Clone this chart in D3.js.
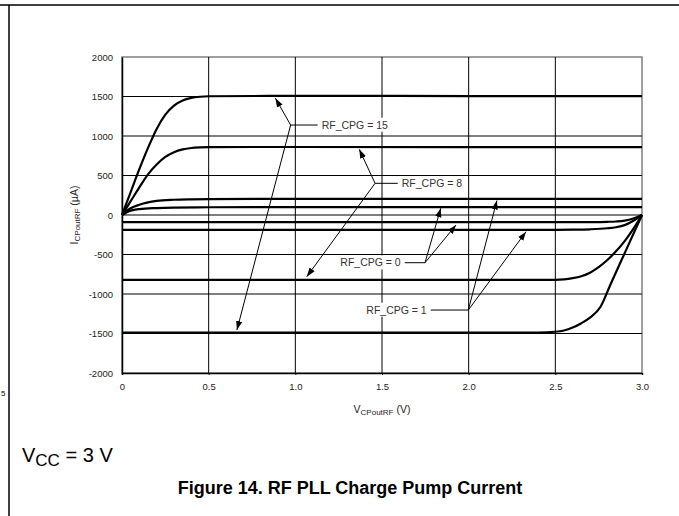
<!DOCTYPE html>
<html>
<head>
<meta charset="utf-8">
<script src="https://cdn.jsdelivr.net/npm/d3@7"></script>
<style>
  body { margin: 0; background: #fff; }
  svg { display: block; font-family: "Liberation Sans", Arial, sans-serif; }
</style>
</head>
<body>
<div id="chart"></div>
<script>
// tick values
const xTicks = [0, 0.5, 1.0, 1.5, 2.0, 2.5, 3.0];
const yTicks = [-2000, -1500, -1000, -500, 0, 500, 1000, 1500, 2000];

// source curves [V, uA]
const cpg15Source = [[0,0],[0.05,290],[0.1,580],[0.15,850],[0.2,1090],[0.25,1270],[0.3,1385],[0.35,1450],[0.4,1482],[0.45,1497],[0.5,1503],[1.0,1508],[2.0,1506],[3.0,1505]];
const cpg8Source = [[0,0],[0.05,175],[0.1,350],[0.15,515],[0.2,640],[0.25,735],[0.3,795],[0.35,830],[0.4,848],[0.45,856],[0.5,859],[1.0,861],[3.0,858]];
const cpg1Source = [[0,0],[0.05,85],[0.1,130],[0.15,160],[0.2,178],[0.3,193],[0.4,199],[0.5,202],[1.0,205],[3.0,205]];
const cpg0Source = [[0,0],[0.05,55],[0.1,75],[0.2,88],[0.3,94],[0.5,98],[1.0,100],[3.0,100]];

// sink curves [V, uA]
const cpg0Sink = [[0,-90],[2.5,-90],[2.7,-89],[2.8,-86],[2.85,-82],[2.9,-72],[2.95,-45],[3.0,0]];
const cpg1Sink = [[0,-188],[2.5,-188],[2.6,-186],[2.7,-181],[2.8,-168],[2.85,-155],[2.9,-128],[2.95,-72],[3.0,0]];
const cpg8Sink = [[0,-820],[2.5,-820],[2.55,-815],[2.6,-800],[2.65,-775],[2.7,-730],[2.75,-660],[2.8,-570],[2.85,-460],[2.9,-330],[2.95,-175],[3.0,0]];
const cpg15Sink = [[0,-1490],[2.4,-1488],[2.5,-1478],[2.55,-1462],[2.6,-1425],[2.65,-1370],[2.7,-1300],[2.76,-1165],[2.82,-870],[2.88,-580],[2.94,-290],[3.0,0]];

const curves = [cpg15Source, cpg8Source, cpg1Source, cpg0Source, cpg0Sink, cpg1Sink, cpg8Sink, cpg15Sink];

// callouts: label text, elbow point, label side, arrow tips (data units)
const callouts = [
  { label: "RF_CPG = 15", elbow: [0.973, 1139], textAt: 1.152, side: "right", tips: [[0.885, 1478], [0.663, -1456]] },
  { label: "RF_CPG = 8", elbow: [1.46, 401], textAt: 1.614, side: "right", tips: [[1.369, 831], [1.066, -781]] },
  { label: "RF_CPG = 0", elbow: [1.748, -604], textAt: 1.608, side: "left", tips: [[1.839, 85], [1.927, -127]] },
  { label: "RF_CPG = 1", elbow: [1.998, -1203], textAt: 1.758, side: "left", tips: [[2.163, 183], [2.331, -211]] }
];

const width = 679;
const height = 516;
const margins = { top: 57, right: 37, bottom: 143, left: 122 };

const svg = d3.select("#chart").append("svg")
  .attr("width", width)
  .attr("height", height);

svg.append("rect").attr("width", width).attr("height", height).attr("fill", "#fff");

// page frame bits
svg.append("line").attr("x1", 0).attr("x2", width).attr("y1", 5).attr("y2", 5)
  .attr("stroke", "#000").attr("stroke-width", 1.5);
svg.append("line").attr("x1", 9).attr("x2", 9).attr("y1", 5).attr("y2", height)
  .attr("stroke", "#000").attr("stroke-width", 1.5);
svg.append("text").attr("x", 1).attr("y", 396)
  .attr("font-size", 8).attr("fill", "#000").text("5");

const xScale = d3.scaleLinear().domain([0, 3]).range([margins.left, width - margins.right]);
const yScale = d3.scaleLinear().domain([-2000, 2000]).range([height - margins.bottom, margins.top]);

// plot border
svg.append("rect")
  .attr("x", xScale(0)).attr("y", yScale(2000))
  .attr("width", xScale(3) - xScale(0)).attr("height", yScale(-2000) - yScale(2000))
  .attr("fill", "none").attr("stroke", "#808080").attr("stroke-width", 1.5);

// grid
const grid = svg.append("g").attr("stroke", "#000").attr("stroke-width", 1);
grid.selectAll(".gx").data(xTicks.slice(1, -1)).enter().append("line")
  .attr("x1", d => xScale(d)).attr("x2", d => xScale(d))
  .attr("y1", yScale(2000)).attr("y2", yScale(-2000));
grid.selectAll(".gy").data(yTicks.slice(1, -1)).enter().append("line")
  .attr("x1", xScale(0)).attr("x2", xScale(3))
  .attr("y1", d => yScale(d)).attr("y2", d => yScale(d));

// axes
const xAxis = d3.axisBottom(xScale).tickValues(xTicks).tickSize(2).tickPadding(8)
  .tickFormat(d => d === 0 ? "0" : d3.format(".1f")(d));
const yAxis = d3.axisLeft(yScale).tickValues(yTicks).tickSize(0).tickPadding(9)
  .tickFormat(d => d);

const gx = svg.append("g").attr("transform", `translate(0,${yScale(-2000)})`).call(xAxis);
const gy = svg.append("g").attr("transform", `translate(${xScale(0)},0)`).call(yAxis);
[gx, gy].forEach(g => {
  g.selectAll("path.domain").attr("stroke", "#000").attr("stroke-width", 1.5);
  g.selectAll(".tick line").attr("stroke", "#000");
  g.selectAll(".tick text").attr("font-family", "'Liberation Sans', Arial, sans-serif")
    .attr("font-size", 9.5).attr("fill", "#222");
});

// axis titles
const yTitle = svg.append("text")
  .attr("transform", `translate(78,${yScale(0)}) rotate(-90)`)
  .attr("text-anchor", "middle").attr("font-size", 10.5).attr("fill", "#222");
yTitle.append("tspan").text("I");
yTitle.append("tspan").attr("font-size", 8).attr("dy", 2).text("CPoutRF");
yTitle.append("tspan").attr("dy", -2).text(" (\u00b5A)");

const xTitle = svg.append("text")
  .attr("x", xScale(1.5)).attr("y", 413)
  .attr("text-anchor", "middle").attr("font-size", 10.5).attr("fill", "#222");
xTitle.append("tspan").text("V");
xTitle.append("tspan").attr("font-size", 8).attr("dy", 2).text("CPoutRF");
xTitle.append("tspan").attr("dy", -2).text(" (V)");

// curves
const line = d3.line()
  .x(d => xScale(d[0]))
  .y(d => yScale(d[1]))
  .curve(d3.curveMonotoneX);

svg.append("g").selectAll("path").data(curves).enter().append("path")
  .attr("d", line)
  .attr("fill", "none")
  .attr("stroke", "#000")
  .attr("stroke-width", 2.2)
  .attr("stroke-linejoin", "round");

// arrowheads
svg.append("defs").append("marker")
  .attr("id", "arrow")
  .attr("viewBox", "0 0 10 10")
  .attr("refX", 10).attr("refY", 5)
  .attr("markerWidth", 9).attr("markerHeight", 9)
  .attr("markerUnits", "userSpaceOnUse")
  .attr("orient", "auto")
  .append("path").attr("d", "M0,1.5 L10,5 L0,8.5 Z").attr("fill", "#000");

// callouts
const callG = svg.append("g");
callouts.forEach(c => {
  const ex = xScale(c.elbow[0]);
  const ey = yScale(c.elbow[1]);
  const tx = xScale(c.textAt);

  const label = callG.append("text")
    .attr("x", tx).attr("y", ey).attr("dy", "0.35em")
    .attr("text-anchor", c.side === "right" ? "start" : "end")
    .attr("font-size", 10.5).attr("fill", "#333")
    .text(c.label);
  const bb = label.node().getBBox();
  callG.insert("rect", "text")
    .attr("x", bb.x - 2).attr("y", bb.y - 1)
    .attr("width", bb.width + 4).attr("height", bb.height + 2)
    .attr("fill", "#fff");

  const lineEnd = c.side === "right" ? tx - 4 : tx + 4;
  callG.append("line")
    .attr("x1", ex).attr("y1", ey).attr("x2", lineEnd).attr("y2", ey)
    .attr("stroke", "#000").attr("stroke-width", 1);

  c.tips.forEach(t => {
    callG.append("line")
      .attr("x1", ex).attr("y1", ey)
      .attr("x2", xScale(t[0])).attr("y2", yScale(t[1]))
      .attr("stroke", "#000").attr("stroke-width", 1)
      .attr("marker-end", "url(#arrow)");
  });
});

// notes under the chart
const vcc = svg.append("text")
  .attr("x", 22).attr("y", 462)
  .attr("font-size", 20).attr("fill", "#000");
vcc.append("tspan").text("V");
vcc.append("tspan").attr("font-size", 17).attr("dy", 4).text("CC");
vcc.append("tspan").attr("dy", -4).text(" = 3 V");

svg.append("text")
  .attr("x", 350).attr("y", 494)
  .attr("text-anchor", "middle")
  .attr("font-size", 18).attr("font-weight", "bold").attr("fill", "#000")
  .text("Figure 14. RF PLL Charge Pump Current");
</script>
</body>
</html>
